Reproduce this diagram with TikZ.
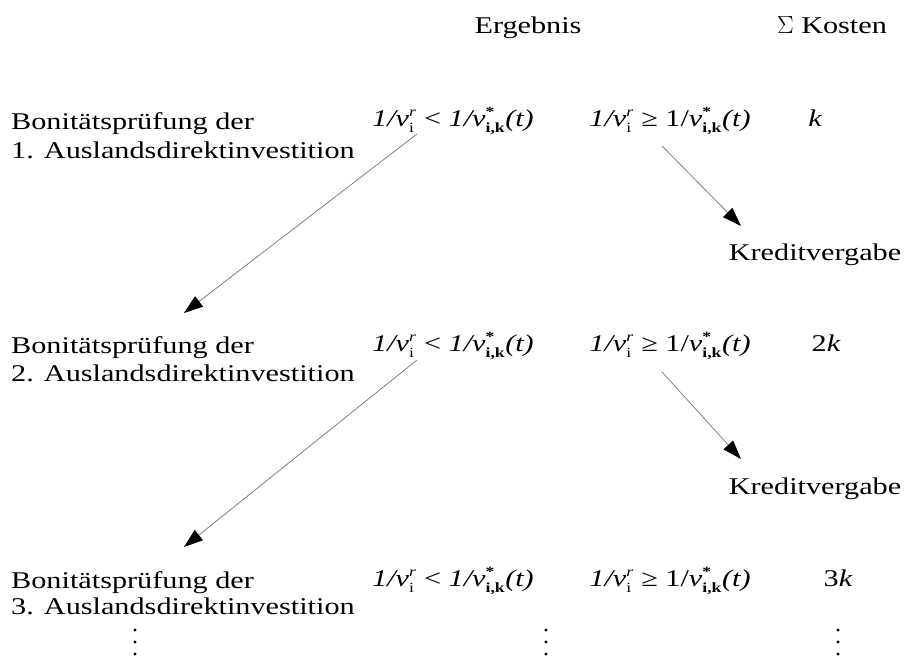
\documentclass[tikz,border=0pt]{standalone}
\usepackage{fontspec}
\setmainfont{Liberation Serif}[FakeStretch=1.26]
\usetikzlibrary{arrows.meta}
\newcommand\sbs{\fontsize{14}{14}\selectfont}
\newcommand\fleft{{\itshape 1/v}${}^{\mbox{\sbs\itshape r}}_{\mbox{\sbs i}}$}
\newcommand\fright{{\itshape v}${}^{\mbox{\sbs\bfseries *}}_{\mbox{\sbs\bfseries i,k}}${\itshape (t)}}
\newcommand\fless{\fleft\ < {\itshape 1/}\fright}
\newcommand\fgeq{\fleft\ ≥ 1/\fright}
\begin{document}
\begin{tikzpicture}[x=1pt,y=-1pt,
  txt/.style={inner sep=0pt,font=\fontsize{24}{28}\selectfont},
  lt/.style={txt,anchor=base west},
  ct/.style={txt,anchor=base},
  conn/.style={draw=black!50,line width=0.8pt,
    -{Triangle[length=19pt,width=13pt,color=black]}},
  dot/.style={circle,fill=black,inner sep=0pt,minimum size=3.4pt}]
\useasboundingbox (0,0) rectangle (910,662);
% header
\node[ct] (erg) at (528,33) {Ergebnis};
\node[ct] (kos) at (832,33) {$\Sigma$ Kosten};
% row 1
\node[lt] (b1a) at (11,129) {Bonitätsprüfung der};
\node[lt] (b1b) at (11,158) {1. Auslandsdirektinvestition};
\node[ct] (f1l) at (453,126) {\fless};
\node[ct] (f1r) at (670,126) {\fgeq};
\node[ct] (c1) at (815,126) {\itshape k};
\node[ct] (kr1) at (815,260) {Kreditvergabe};
% row 2
\node[lt] (b2a) at (11,353) {Bonitätsprüfung der};
\node[lt] (b2b) at (11,381) {2. Auslandsdirektinvestition};
\node[ct] (f2l) at (453,351) {\fless};
\node[ct] (f2r) at (670,351) {\fgeq};
\node[ct] (c2) at (826,351) {2\itshape k};
\node[ct] (kr2) at (815,494) {Kreditvergabe};
% row 3
\node[lt] (b3a) at (11,588) {Bonitätsprüfung der};
\node[lt] (b3b) at (11,614) {3. Auslandsdirektinvestition};
\node[ct] (f3l) at (453,586) {\fless};
\node[ct] (f3r) at (670,586) {\fgeq};
\node[ct] (c3) at (838,586) {3\itshape k};
% dots
\foreach \n/\x in {da/135,db/546,dc/838}{
  \node[dot] (\n1) at (\x,630) {};
  \node[dot] (\n2) at (\x,642) {};
  \node[dot] (\n3) at (\x,654) {};
}
% connectors
\coordinate (s1l) at (417,134);
\coordinate (e1l) at (184,313);
\coordinate (s1r) at (662,146);
\coordinate (e1r) at (741,226);
\coordinate (s2l) at (417,360);
\coordinate (e2l) at (184,547);
\coordinate (s2r) at (662,372);
\coordinate (e2r) at (741,459);
\draw[conn] (s1l) -- (e1l);
\draw[conn] (s1r) -- (e1r);
\draw[conn] (s2l) -- (e2l);
\draw[conn] (s2r) -- (e2r);
\end{tikzpicture}
\end{document}
